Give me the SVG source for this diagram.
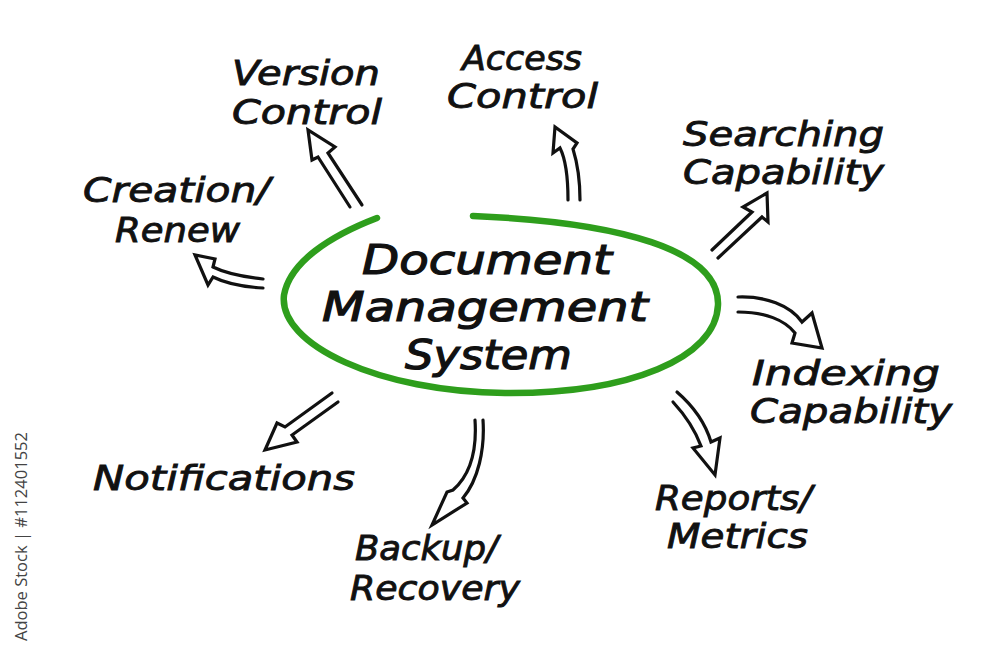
<svg xmlns="http://www.w3.org/2000/svg" width="1000" height="658" viewBox="0 0 1000 658">
<style>
.lbl{font-family:"DejaVu Sans","Liberation Sans",sans-serif;font-style:italic;font-size:34px;fill:#111;stroke:#111;stroke-width:0.9}
.ctr{font-family:"DejaVu Sans","Liberation Sans",sans-serif;font-style:italic;font-size:40px;fill:#111;stroke:#111;stroke-width:1.2}
.arr{fill:none;stroke:#111;stroke-width:3.2;stroke-linejoin:miter;stroke-linecap:round}
.wm{font-family:"Open Sans","DejaVu Sans",sans-serif;font-size:17px;fill:#444}
</style>
<rect width="1000" height="658" fill="#fff"/>
<g id="watermark"><text class="wm" transform="translate(27,641) rotate(-90)" textLength="209" lengthAdjust="spacingAndGlyphs">Adobe Stock | #112401552</text></g>
<g id="center">
<path d="M377,218 C330,236 290,262 284,295 C278,345 380,392 505,393 C630,394 716,358 718,305 C720,250 620,222 473,216" fill="none" stroke="#2e9e1c" stroke-width="6.5" stroke-linecap="round"/>
<text class="ctr" x="362" y="274" textLength="250" lengthAdjust="spacingAndGlyphs">Document</text>
<text class="ctr" x="322" y="321" textLength="326" lengthAdjust="spacingAndGlyphs">Management</text>
<text class="ctr" x="405" y="369" textLength="167" lengthAdjust="spacingAndGlyphs">System</text>
</g>
<g id="connectors">
<path class="arr" d="M350,207 L318,157 L312,160 L308,130 L335,147 L328,153 L362,205"/>
<path class="arr" d="M263,279 C245,277 225,273 213,267 L215,259 L195,255 L208,285 L213,277 C225,283 245,287 263,288"/>
<path class="arr" d="M568,200 C568,180 566,160 560,148 L553,153 L555,127 L577,143 L573,149 C578,165 580,183 580,200"/>
<path class="arr" d="M712,250 L752,212 L743,207 L767,193 L768,222 L762,217 L718,258"/>
<path class="arr" d="M738,297 C765,296 790,305 802,322 L812,313 L822,348 L792,343 L795,333 C785,320 765,312 738,312"/>
<path class="arr" d="M332,393 L285,427 L277,423 L265,450 L297,442 L292,435 L338,402"/>
<path class="arr" d="M475,420 C477,450 470,475 453,490 L447,492 L432,525 L467,503 L463,498 C478,480 485,450 483,420"/>
<path class="arr" d="M673,402 C685,415 695,430 701,446 L693,448 L715,475 L720,438 L711,442 C705,422 692,405 677,392"/>
</g>
<g id="version"><text class="lbl" x="232" y="85" textLength="148" lengthAdjust="spacingAndGlyphs">Version</text><text class="lbl" x="232" y="124" textLength="150" lengthAdjust="spacingAndGlyphs">Control</text></g>
<g id="access"><text class="lbl" x="462" y="70" textLength="120" lengthAdjust="spacingAndGlyphs">Access</text><text class="lbl" x="447" y="108" textLength="151" lengthAdjust="spacingAndGlyphs">Control</text></g>
<g id="searching"><text class="lbl" x="683" y="146" textLength="201" lengthAdjust="spacingAndGlyphs">Searching</text><text class="lbl" x="683" y="184" textLength="201" lengthAdjust="spacingAndGlyphs">Capability</text></g>
<g id="creation"><text class="lbl" x="83" y="202" textLength="187" lengthAdjust="spacingAndGlyphs">Creation/</text><text class="lbl" x="115" y="242" textLength="125" lengthAdjust="spacingAndGlyphs">Renew</text></g>
<g id="indexing"><text class="lbl" x="752" y="385" textLength="188" lengthAdjust="spacingAndGlyphs">Indexing</text><text class="lbl" x="750" y="423" textLength="202" lengthAdjust="spacingAndGlyphs">Capability</text></g>
<g id="notifications"><text class="lbl" x="93" y="490" textLength="262" lengthAdjust="spacingAndGlyphs">Notifications</text></g>
<g id="reports"><text class="lbl" x="655" y="510" textLength="157" lengthAdjust="spacingAndGlyphs">Reports/</text><text class="lbl" x="667" y="548" textLength="141" lengthAdjust="spacingAndGlyphs">Metrics</text></g>
<g id="backup"><text class="lbl" x="355" y="560" textLength="143" lengthAdjust="spacingAndGlyphs">Backup/</text><text class="lbl" x="350" y="600" textLength="170" lengthAdjust="spacingAndGlyphs">Recovery</text></g>
</svg>
